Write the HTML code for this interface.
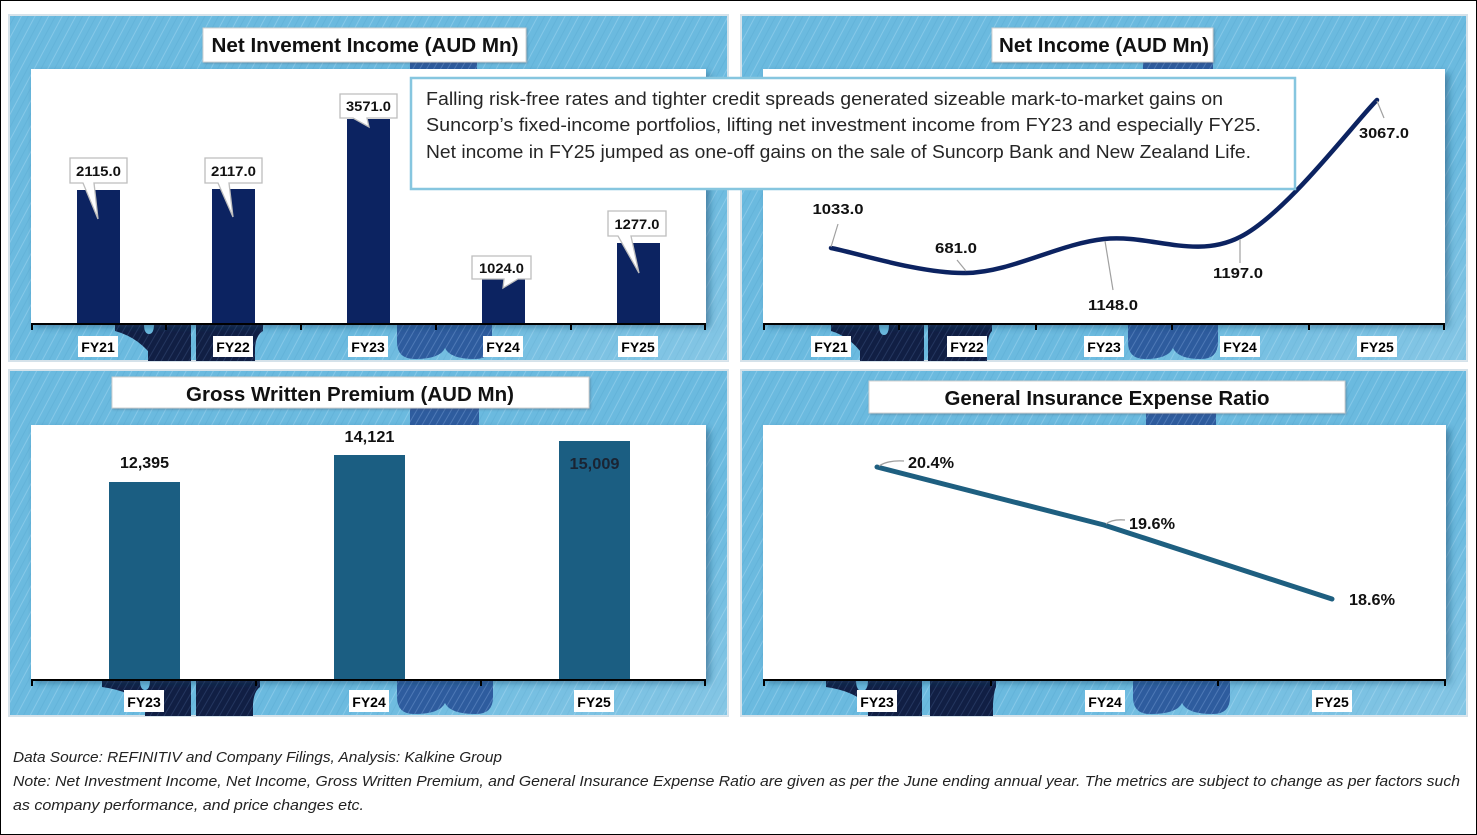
<!DOCTYPE html>
<html><head><meta charset="utf-8"><style>
html,body{margin:0;padding:0;background:#fff;}
svg{display:block;font-family:"Liberation Sans",Arial,sans-serif;}
</style></head><body>
<svg width="1477" height="835" viewBox="0 0 1477 835" xmlns="http://www.w3.org/2000/svg">
<defs>
<pattern id="tex" width="12" height="12" patternUnits="userSpaceOnUse" patternTransform="rotate(-62)">
<rect width="12" height="12" fill="#6bbadf"/>
<line x1="0" y1="2.5" x2="12" y2="2.5" stroke="#9dd3ee" stroke-width="1" opacity="0.55"/>
<line x1="0" y1="8.5" x2="12" y2="8.5" stroke="#58aad3" stroke-width="1" opacity="0.45"/>
</pattern>
<pattern id="dtex" width="6" height="6" patternUnits="userSpaceOnUse" patternTransform="rotate(-60)">
<rect width="6" height="6" fill="#111f44"/>
<line x1="0" y1="2" x2="6" y2="2" stroke="#2c3f6a" stroke-width="1" opacity="0.7"/>
</pattern>
<pattern id="btex" width="6" height="6" patternUnits="userSpaceOnUse" patternTransform="rotate(-60)">
<rect width="6" height="6" fill="#2e5c9e"/>
<line x1="0" y1="2" x2="6" y2="2" stroke="#5b86c0" stroke-width="1" opacity="0.7"/>
</pattern>
<linearGradient id="glow" x1="0" y1="0" x2="1" y2="1">
<stop offset="0" stop-color="#ffffff" stop-opacity="0"/>
<stop offset="0.7" stop-color="#ffffff" stop-opacity="0"/>
<stop offset="1" stop-color="#ffffff" stop-opacity="0.18"/>
</linearGradient>
<filter id="sh" x="-5%" y="-5%" width="110%" height="115%">
<feDropShadow dx="4" dy="4" stdDeviation="3.5" flood-color="#1b3f60" flood-opacity="0.45"/>
</filter>
<filter id="sh2" x="-5%" y="-10%" width="110%" height="130%">
<feDropShadow dx="1" dy="1" stdDeviation="1" flood-color="#445" flood-opacity="0.35"/>
</filter>
</defs>

<rect x="0.5" y="0.5" width="1476" height="834" fill="#fff" stroke="#000" stroke-width="1"/>

<!-- Panels -->
<g stroke="#d5e2ea" stroke-width="2">
<rect x="9" y="15" width="719" height="346" fill="url(#tex)"/>
<rect x="741" y="15" width="726" height="346" fill="url(#tex)"/>
<rect x="9" y="370" width="719" height="346" fill="url(#tex)"/>
<rect x="741" y="370" width="726" height="346" fill="url(#tex)"/>
</g>
<g>
<rect x="9" y="15" width="719" height="346" fill="url(#glow)"/>
<rect x="741" y="15" width="726" height="346" fill="url(#glow)"/>
<rect x="9" y="370" width="719" height="346" fill="url(#glow)"/>
<rect x="741" y="370" width="726" height="346" fill="url(#glow)"/>
</g>

<!-- decorations: blob tops above plot -->
<rect x="410" y="60" width="67" height="10" fill="url(#btex)"/>
<rect x="1143" y="60" width="70" height="10" fill="url(#btex)"/>
<rect x="410" y="406" width="69" height="20" fill="url(#btex)"/>
<rect x="1146" y="411" width="70" height="15" fill="url(#btex)"/>

<!-- decorations bottom strips: trees & blobs -->
<!-- top-left -->
<path d="M115,324 L191,324 L191,361 L148,361 L148,351 Q134,336 115,331 Z" fill="url(#dtex)"/>
<path d="M144,324 Q144,334 149,334 Q154,334 154,324 Z" fill="#6bbadf"/>
<path d="M196,324 L263,324 L263,331 Q256,335 255,348 L255,361 L196,361 Z" fill="url(#dtex)"/>
<path d="M397,324 L492,324 L492,342 Q492,359 475,359 Q450,359 445,348 Q440,359 415,359 Q397,359 397,342 Z" fill="url(#btex)"/>
<!-- top-right -->
<path d="M831,324 L924,324 L924,361 L860,361 L860,351 Q848,336 831,331 Z" fill="url(#dtex)"/>
<path d="M879,324 Q879,335 884,335 Q889,335 889,324 Z" fill="#6bbadf"/>
<path d="M928,324 L992,324 L992,331 Q988,335 987,348 L987,361 L928,361 Z" fill="url(#dtex)"/>
<path d="M1128,324 L1218,324 L1218,342 Q1218,359 1201,359 Q1178,359 1173,348 Q1168,359 1145,359 Q1128,359 1128,342 Z" fill="url(#btex)"/>
<!-- bottom-left -->
<path d="M102,680 L191,680 L191,716 L145,716 L145,706 Q132,691 102,687 Z" fill="url(#dtex)"/>
<path d="M140,680 Q140,690 145,690 Q150,690 150,680 Z" fill="#6bbadf"/>
<path d="M196,680 L260,680 L260,687 Q254,691 253,704 L253,716 L196,716 Z" fill="url(#dtex)"/>
<path d="M397,680 L493,680 L493,697 Q493,714 476,714 Q450,714 445,703 Q440,714 414,714 Q397,714 397,697 Z" fill="url(#btex)"/>
<!-- bottom-right -->
<path d="M826,680 L922,680 L922,716 L868,716 L868,706 Q855,691 826,687 Z" fill="url(#dtex)"/>
<path d="M856,680 Q856,691 862,691 Q868,691 868,680 Z" fill="#6bbadf"/>
<path d="M930,680 L996,680 L996,687 Q994,691 993,704 L993,716 L930,716 Z" fill="url(#dtex)"/>
<path d="M1133,680 L1230,680 L1230,697 Q1230,714 1213,714 Q1187,714 1182,703 Q1177,714 1150,714 Q1133,714 1133,697 Z" fill="url(#btex)"/>

<!-- Plot areas -->
<g filter="url(#sh)" fill="#fff">
<rect x="31" y="69" width="675" height="254"/>
<rect x="763" y="69" width="682" height="254"/>
<rect x="31" y="425" width="675" height="254"/>
<rect x="763" y="425" width="683" height="254"/>
</g>

<!-- Title boxes -->
<g fill="#fff" stroke="#d0d0d0" stroke-width="1" filter="url(#sh2)">
<rect x="203" y="28" width="323" height="34"/>
<rect x="992" y="28" width="221" height="34"/>
<rect x="112" y="377" width="477" height="31"/>
<rect x="869" y="381" width="476" height="32"/>
</g>
<g font-weight="bold" font-size="20" fill="#111" text-anchor="middle">
<text x="365" y="52" textLength="307" lengthAdjust="spacingAndGlyphs">Net Invement Income (AUD Mn)</text>
<text x="1104" y="52" textLength="210" lengthAdjust="spacingAndGlyphs">Net Income (AUD Mn)</text>
<text x="350" y="401" textLength="328" lengthAdjust="spacingAndGlyphs">Gross Written Premium (AUD Mn)</text>
<text x="1107" y="405" textLength="325" lengthAdjust="spacingAndGlyphs">General Insurance Expense Ratio</text>
</g>

<!-- ===== Top-left: Net Investment Income bars ===== -->
<g fill="#0c2361">
<rect x="77" y="190" width="43" height="133"/>
<rect x="212" y="189" width="43" height="134"/>
<rect x="347" y="119" width="43" height="204"/>
<rect x="482" y="279" width="43" height="44"/>
<rect x="617" y="243" width="43" height="80"/>
</g>
<g stroke="#000" stroke-width="2">
<line x1="31" y1="324" x2="706" y2="324"/>
<line x1="32" y1="324" x2="32" y2="330"/>
<line x1="166" y1="324" x2="166" y2="330"/>
<line x1="301" y1="324" x2="301" y2="330"/>
<line x1="436" y1="324" x2="436" y2="330"/>
<line x1="571" y1="324" x2="571" y2="330"/>
<line x1="705" y1="324" x2="705" y2="330"/>
</g>
<!-- callouts -->
<g fill="#fff" stroke="#bdbdbd" stroke-width="1.3" stroke-linejoin="miter">
<path d="M70,158 H127 V183 H94 L98,219 L83,183 H70 Z"/>
<path d="M205,158 H262 V183 H229 L233,217 L218,183 H205 Z"/>
<path d="M340,94 H397 V118 H367 L369,127 L353,118 H340 Z"/>
<path d="M472,256 H531 V279 H518 L503,288 L504,279 H472 Z"/>
<path d="M608,211 H666 V236 H631 L639,273 L618,236 H608 Z"/>
</g>
<g font-weight="bold" font-size="14" fill="#111" text-anchor="middle">
<text x="98.5" y="176" textLength="45" lengthAdjust="spacingAndGlyphs">2115.0</text>
<text x="233.5" y="176" textLength="45" lengthAdjust="spacingAndGlyphs">2117.0</text>
<text x="368.5" y="111" textLength="45" lengthAdjust="spacingAndGlyphs">3571.0</text>
<text x="501.5" y="273" textLength="45" lengthAdjust="spacingAndGlyphs">1024.0</text>
<text x="637" y="229" textLength="45" lengthAdjust="spacingAndGlyphs">1277.0</text>
</g>
<g fill="#fff">
<rect x="78" y="336" width="40" height="21"/>
<rect x="213" y="336" width="40" height="21"/>
<rect x="348" y="336" width="40" height="21"/>
<rect x="483" y="336" width="40" height="21"/>
<rect x="618" y="336" width="40" height="21"/>
</g>
<g font-weight="bold" font-size="14" fill="#000" text-anchor="middle">
<text x="98" y="352">FY21</text>
<text x="233" y="352">FY22</text>
<text x="368" y="352">FY23</text>
<text x="503" y="352">FY24</text>
<text x="638" y="352">FY25</text>
</g>

<!-- ===== Top-right: Net Income line ===== -->
<g stroke="#000" stroke-width="2">
<line x1="763" y1="324" x2="1445" y2="324"/>
<line x1="764" y1="324" x2="764" y2="330"/>
<line x1="899" y1="324" x2="899" y2="330"/>
<line x1="1036" y1="324" x2="1036" y2="330"/>
<line x1="1172" y1="324" x2="1172" y2="330"/>
<line x1="1309" y1="324" x2="1309" y2="330"/>
<line x1="1444" y1="324" x2="1444" y2="330"/>
</g>
<path d="M831,248 C853,252 921,274 966,273 C1012,272 1058,244 1104,239 C1150,234 1195,260 1240,237 C1286,214 1354,123 1377,100" fill="none" stroke="#0c2361" stroke-width="4.5" stroke-linecap="round"/>
<g stroke="#a0a0a0" stroke-width="1.2" fill="none">
<line x1="831" y1="247" x2="838" y2="224"/>
<line x1="966" y1="271" x2="957" y2="260"/>
<line x1="1105" y1="241" x2="1113" y2="290"/>
<line x1="1240" y1="239" x2="1240" y2="263"/>
<line x1="1377" y1="101" x2="1384" y2="118"/>
</g>
<g font-weight="bold" font-size="15" fill="#111" text-anchor="middle">
<text x="838" y="214" textLength="51" lengthAdjust="spacingAndGlyphs">1033.0</text>
<text x="956" y="253" textLength="42" lengthAdjust="spacingAndGlyphs">681.0</text>
<text x="1113" y="310" textLength="50" lengthAdjust="spacingAndGlyphs">1148.0</text>
<text x="1238" y="278" textLength="50" lengthAdjust="spacingAndGlyphs">1197.0</text>
<text x="1384" y="138" textLength="50" lengthAdjust="spacingAndGlyphs">3067.0</text>
</g>
<g fill="#fff">
<rect x="811" y="336" width="40" height="21"/>
<rect x="947" y="336" width="40" height="21"/>
<rect x="1084" y="336" width="40" height="21"/>
<rect x="1220" y="336" width="40" height="21"/>
<rect x="1357" y="336" width="40" height="21"/>
</g>
<g font-weight="bold" font-size="14" fill="#000" text-anchor="middle">
<text x="831" y="352">FY21</text>
<text x="967" y="352">FY22</text>
<text x="1104" y="352">FY23</text>
<text x="1240" y="352">FY24</text>
<text x="1377" y="352">FY25</text>
</g>

<!-- Annotation box -->
<rect x="411" y="78" width="884" height="111" fill="#fff" stroke="#86c6df" stroke-width="2.5"/>
<g font-size="18" fill="#262626">
<text x="426" y="105" textLength="797" lengthAdjust="spacingAndGlyphs">Falling risk-free rates and tighter credit spreads generated sizeable mark-to-market gains on</text>
<text x="426" y="131" textLength="835" lengthAdjust="spacingAndGlyphs">Suncorp’s fixed-income portfolios, lifting net investment income from FY23 and especially FY25.</text>
<text x="426" y="158" textLength="825" lengthAdjust="spacingAndGlyphs">Net income in FY25 jumped as one-off gains on the sale of Suncorp Bank and New Zealand Life.</text>
</g>

<!-- ===== Bottom-left: GWP bars ===== -->
<g fill="#1b5e82">
<rect x="109" y="482" width="71" height="197"/>
<rect x="334" y="455" width="71" height="224"/>
<rect x="559" y="441" width="71" height="238"/>
</g>
<g stroke="#000" stroke-width="2">
<line x1="31" y1="680" x2="706" y2="680"/>
<line x1="32" y1="680" x2="32" y2="686"/>
<line x1="256" y1="680" x2="256" y2="686"/>
<line x1="481" y1="680" x2="481" y2="686"/>
<line x1="705" y1="680" x2="705" y2="686"/>
</g>
<g font-weight="bold" font-size="16" text-anchor="middle">
<text x="144.5" y="468" fill="#111" textLength="49" lengthAdjust="spacingAndGlyphs">12,395</text>
<text x="369.5" y="442" fill="#111" textLength="50" lengthAdjust="spacingAndGlyphs">14,121</text>
<text x="594.5" y="469" fill="#1a2433" textLength="50" lengthAdjust="spacingAndGlyphs">15,009</text>
</g>
<g fill="#fff">
<rect x="124" y="690" width="40" height="22"/>
<rect x="349" y="690" width="40" height="22"/>
<rect x="574" y="690" width="40" height="22"/>
</g>
<g font-weight="bold" font-size="14" fill="#000" text-anchor="middle">
<text x="144" y="707">FY23</text>
<text x="369" y="707">FY24</text>
<text x="594" y="707">FY25</text>
</g>

<!-- ===== Bottom-right: expense ratio line ===== -->
<g stroke="#000" stroke-width="2">
<line x1="763" y1="680" x2="1446" y2="680"/>
<line x1="764" y1="680" x2="764" y2="686"/>
<line x1="991" y1="680" x2="991" y2="686"/>
<line x1="1218" y1="680" x2="1218" y2="686"/>
<line x1="1445" y1="680" x2="1445" y2="686"/>
</g>
<polyline points="877,467 1104,525 1332,599" fill="none" stroke="#1e5f80" stroke-width="5" stroke-linecap="round" stroke-linejoin="round"/>
<g stroke="#a0a0a0" stroke-width="1.3" fill="none">
<path d="M879,466 Q888,460 904,461"/>
<path d="M1106,524 Q1112,519 1125,520"/>
</g>
<g font-weight="bold" font-size="16" fill="#111" text-anchor="middle">
<text x="931" y="468" textLength="46" lengthAdjust="spacingAndGlyphs">20.4%</text>
<text x="1152" y="529" textLength="46" lengthAdjust="spacingAndGlyphs">19.6%</text>
<text x="1372" y="605" textLength="46" lengthAdjust="spacingAndGlyphs">18.6%</text>
</g>
<g fill="#fff">
<rect x="857" y="690" width="40" height="22"/>
<rect x="1085" y="690" width="40" height="22"/>
<rect x="1312" y="690" width="40" height="22"/>
</g>
<g font-weight="bold" font-size="14" fill="#000" text-anchor="middle">
<text x="877" y="707">FY23</text>
<text x="1105" y="707">FY24</text>
<text x="1332" y="707">FY25</text>
</g>

<!-- Footer -->
<g font-style="italic" font-size="15" fill="#222">
<text x="13" y="762" textLength="489" lengthAdjust="spacingAndGlyphs">Data Source: REFINITIV and Company Filings, Analysis: Kalkine Group</text>
<text x="13" y="786" textLength="1447" lengthAdjust="spacingAndGlyphs">Note: Net Investment Income, Net Income, Gross Written Premium, and General Insurance Expense Ratio are given as per the June ending annual year. The metrics are subject to change as per factors such</text>
<text x="13" y="810" textLength="351" lengthAdjust="spacingAndGlyphs">as company performance, and price changes etc.</text>
</g>
</svg>
</body></html>
